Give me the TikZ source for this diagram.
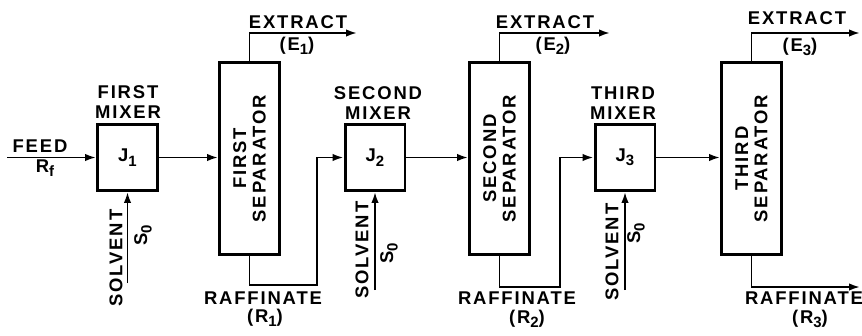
\documentclass[tikz,border=0pt]{standalone}
\usepackage{fontspec}
\usepackage{tikz}
\usetikzlibrary{arrows.meta}
\newfontfamily\lettering[LetterSpace=10]{Liberation Sans}
\newcommand{\lowsub}[1]{\raisebox{-0.45ex}{\fontsize{8.5}{9}\selectfont #1}}

\begin{document}
\begin{tikzpicture}[x=0.02cm,y=-0.02cm,
    txt/.style={font={\lettering\bfseries\fontsize{10.5}{11}\selectfont},align=center,inner sep=0pt},
    mixer/.style={draw,line width=1.7pt,minimum width=1.2cm,minimum height=1.32cm,inner sep=0pt,txt},
    separator/.style={draw,line width=1.7pt,minimum width=1.2cm,minimum height=3.84cm,inner sep=0pt},
    flow/.style={line width=1.1pt,-{Latex[length=2.2mm,width=1.5mm]}},
    pipe/.style={line width=1.1pt}]
  \useasboundingbox (0,0) rectangle (862,335);

  % units
  \node[mixer] (m1) at (127.5,157.5) {J\lowsub{1}};
  \node[mixer] (m2) at (375,157.5) {J\lowsub{2}};
  \node[mixer] (m3) at (625,157.5) {J\lowsub{3}};
  \node[separator] (sep1) at (249.5,158.5) {};
  \node[separator] (sep2) at (499.5,158.5) {};
  \node[separator] (sep3) at (751.5,158.5) {};
  \node[txt,rotate=90] (sep1txt) at (sep1) {FIRST\\SEPARATOR};
  \node[txt,rotate=90] (sep2txt) at (sep2) {SECOND\\SEPARATOR};
  \node[txt,rotate=90] (sep3txt) at (sep3) {THIRD\\SEPARATOR};
  \node[txt] (m1txt) at (128,102) {FIRST\\MIXER};
  \node[txt] (m2txt) at (378,103) {SECOND\\MIXER};
  \node[txt] (m3txt) at (623,103) {THIRD\\MIXER};

  % feed
  \coordinate (feed) at (7,157.5);
  \draw[flow] (feed) -- (m1);
  \node[txt] (feedtxt) at (40,146) {FEED};
  \node[txt] (rf) at (45,168) {R\lowsub{f}};

  % solvent streams
  \coordinate (s1) at (127.5,283);
  \coordinate (s2) at (375,290);
  \coordinate (s3) at (625,290);
  \draw[flow] (s1) -- (m1);
  \draw[flow] (s2) -- (m2);
  \draw[flow] (s3) -- (m3);
  \node[txt,rotate=90] (sv1) at (116,258) {SOLVENT};
  \node[txt,rotate=90] (sv2) at (362,250) {SOLVENT};
  \node[txt,rotate=90] (sv3) at (612,252) {SOLVENT};
  \node[txt,rotate=90] (so1) at (143,235) {S\lowsub{0}};
  \node[txt,rotate=90] (so2) at (389,253) {S\lowsub{0}};
  \node[txt,rotate=90] (so3) at (636,233) {S\lowsub{0}};

  % mixer to separator
  \draw[flow] (m1) -- (m1 -| sep1.west);
  \draw[flow] (m2) -- (m2 -| sep2.west);
  \draw[flow] (m3) -- (m3 -| sep3.west);

  % extract
  \coordinate (e1) at (357,33);
  \coordinate (e2) at (610,33);
  \coordinate (e3) at (860,33);
  \draw[flow] (sep1.north) |- (e1);
  \draw[flow] (sep2.north) |- (e2);
  \draw[flow] (sep3.north) |- (e3);
  \node[txt] (ex1) at (298,22) {EXTRACT};
  \node[txt] (ex2) at (545,22) {EXTRACT};
  \node[txt] (ex3) at (797,18) {EXTRACT};
  \node[txt] (e1txt) at (297,46) {(E\lowsub{1})};
  \node[txt] (e2txt) at (553,46) {(E\lowsub{2})};
  \node[txt] (e3txt) at (800,47) {(E\lowsub{3})};

  % raffinate
  \coordinate (r1) at (317,285);
  \coordinate (r2) at (560,287);
  \coordinate (r3) at (860,287);
  \draw[flow] (sep1.south) |- (r1) |- (m2);
  \draw[flow] (sep2.south) |- (r2) |- (m3);
  \draw[flow] (sep3.south) |- (r3);
  \node[txt] (ra1) at (263,298) {RAFFINATE};
  \node[txt] (ra2) at (517,298) {RAFFINATE};
  \node[txt] (ra3) at (804,298) {RAFFINATE};
  \node[txt] (r1txt) at (265,318) {(R\lowsub{1})};
  \node[txt] (r2txt) at (527,319) {(R\lowsub{2})};
  \node[txt] (r3txt) at (810,319) {(R\lowsub{3})};
\end{tikzpicture}
\end{document}
